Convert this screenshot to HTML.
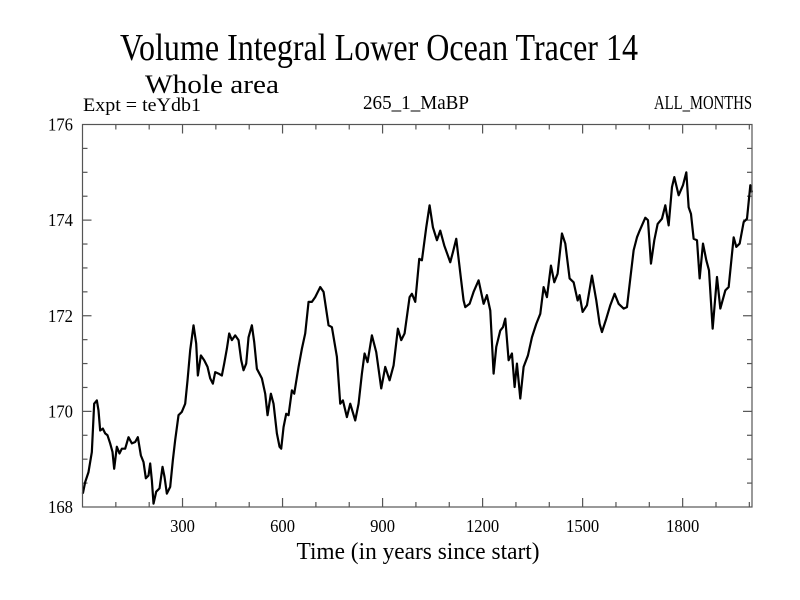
<!DOCTYPE html>
<html><head><meta charset="utf-8"><style>
html,body{margin:0;padding:0;background:#fff;}
svg{display:block;font-family:"Liberation Serif",serif;}
</style></head><body>
<svg id="chart" width="800" height="600">
<rect width="800" height="600" fill="#fff"/>
<text x="379" y="60" font-size="38" text-anchor="middle" textLength="518" lengthAdjust="spacingAndGlyphs">Volume Integral Lower Ocean Tracer 14</text>
<text x="145" y="93" font-size="26" textLength="134" lengthAdjust="spacingAndGlyphs">Whole area</text>
<text x="83" y="111" font-size="19" textLength="118" lengthAdjust="spacingAndGlyphs">Expt = teYdb1</text>
<text x="363" y="109" font-size="20" textLength="106" lengthAdjust="spacingAndGlyphs">265_1_MaBP</text>
<text x="752" y="109" font-size="20" text-anchor="end" textLength="98" lengthAdjust="spacingAndGlyphs">ALL_MONTHS</text>
<text x="418" y="559" font-size="24" text-anchor="middle" textLength="243" lengthAdjust="spacingAndGlyphs">Time (in years since start)</text>
<g id="axes"></g>
<path id="series" fill="none" stroke="#000" stroke-width="2.2" stroke-linejoin="round"/>
<rect x="82.5" y="124.5" width="669.5" height="382.5" fill="none" stroke="#555" stroke-width="1.2"/>
</svg>
<script>
const years = [1,8,18,28,35,43,48,53,61,68,75,83,90,95,103,111,118,128,138,148,158,166,175,183,190,198,203,208,213,221,231,240,246,253,263,271,278,288,298,308,315,323,333,341,346,355,365,375,383,391,398,408,418,425,433,440,448,458,468,476,483,491,498,508,515,523,538,548,555,565,573,583,591,596,603,611,618,628,635,648,658,668,678,688,698,713,723,738,748,763,773,781,793,803,818,828,838,846,855,868,881,896,908,921,933,946,956,966,981,988,998,1010,1018,1031,1041,1051,1063,1073,1085,1103,1111,1121,1135,1143,1148,1161,1173,1188,1203,1213,1223,1233,1241,1253,1261,1268,1278,1288,1296,1303,1313,1323,1336,1348,1361,1373,1383,1393,1405,1415,1425,1438,1448,1461,1473,1485,1491,1500,1513,1528,1541,1551,1558,1571,1583,1596,1608,1623,1633,1643,1653,1663,1671,1688,1696,1705,1715,1725,1738,1748,1758,1768,1775,1788,1801,1811,1818,1825,1833,1843,1851,1861,1871,1879,1890,1903,1913,1928,1938,1953,1961,1971,1983,1993,2003,2008];
const values = [168.28,168.52,168.73,169.15,170.16,170.23,170.02,169.60,169.64,169.54,169.50,169.33,169.15,168.80,169.26,169.12,169.22,169.22,169.46,169.33,169.36,169.46,169.08,168.94,168.60,168.66,168.91,168.56,168.07,168.32,168.39,168.84,168.63,168.28,168.42,168.98,169.40,169.92,169.99,170.16,170.65,171.28,171.80,171.42,170.75,171.17,171.07,170.93,170.69,170.58,170.82,170.79,170.75,171.00,171.31,171.63,171.49,171.59,171.49,171.07,170.86,171.00,171.55,171.80,171.45,170.89,170.69,170.37,169.92,170.37,170.16,169.54,169.26,169.22,169.67,169.95,169.92,170.44,170.37,170.93,171.31,171.63,172.29,172.29,172.39,172.60,172.50,171.80,171.76,171.14,170.16,170.23,169.88,170.16,169.81,170.16,170.79,171.21,171.03,171.59,171.24,170.48,170.93,170.65,170.96,171.73,171.49,171.63,172.39,172.46,172.29,173.19,173.16,173.85,174.31,173.85,173.58,173.78,173.47,173.12,173.33,173.61,172.78,172.32,172.18,172.25,172.50,172.74,172.25,172.43,172.11,170.79,171.35,171.69,171.76,171.94,171.07,171.21,170.51,171.00,170.27,170.93,171.17,171.55,171.83,172.04,172.60,172.39,173.05,172.70,172.88,173.72,173.51,172.78,172.70,172.32,172.43,172.08,172.22,172.84,172.32,171.83,171.66,171.94,172.22,172.46,172.25,172.15,172.18,172.78,173.37,173.64,173.78,174.05,174.00,173.09,173.58,173.92,174.03,174.31,173.89,174.69,174.90,174.52,174.73,175.00,174.27,174.13,173.61,173.58,172.78,173.51,173.16,172.95,171.73,172.81,172.15,172.53,172.60,173.64,173.44,173.51,173.96,174.03,174.73,174.58];
const xTickLabels = [300,600,900,1200,1500,1800];
const yTickLabels = [168,170,172,174,176];
const xMin = 0, xMax = 2008, yMin = 168, yMax = 176;
const L = 82.5, R = 752, T = 124.5, B = 507;
function xs(v){ return L + (v - xMin) / (xMax - xMin) * (R - L); }
function ys(v){ return B - (v - yMin) / (yMax - yMin) * (B - T); }
const NS = "http://www.w3.org/2000/svg";
const axes = document.getElementById('axes');
function line(x1,y1,x2,y2,name){
  const l = document.createElementNS(NS,'line');
  l.setAttribute('x1',x1);l.setAttribute('y1',y1);l.setAttribute('x2',x2);l.setAttribute('y2',y2);
  l.setAttribute('stroke','#555');l.setAttribute('stroke-width','1.2');
  
  
  axes.appendChild(l);
}
function label(x,y,txt,anchor,name,w){
  const t = document.createElementNS(NS,'text');
  t.setAttribute('x',x);t.setAttribute('y',y);t.setAttribute('font-size','18');
  t.setAttribute('text-anchor',anchor);t.textContent = txt;
  t.setAttribute('textLength', w);
  t.setAttribute('lengthAdjust','spacingAndGlyphs');
  
  
  axes.appendChild(t);
}
for(let v=100; v<xMax; v+=100){
  const major = v % 300 === 0;
  const len = major ? 9 : 5;
  const x = xs(v);
  line(x,B,x,B-len,'x-tick');
  line(x,T,x,T+len,'x-tick-top');
}
for(let v=yMin+0.5; v<yMax; v+=0.5){
  const major = Math.abs(v % 2) < 1e-9;
  const len = major ? 9 : 5;
  const y = ys(v);
  line(L,y,L+len,y,'y-tick');
  line(R,y,R-len,y,'y-tick-right');
}
xTickLabels.forEach(v => label(xs(v), 532, String(v), 'middle', 'x-tick-label', String(v).length*8.3));
yTickLabels.forEach(v => label(73, ys(v)+6, String(v), 'end', 'y-tick-label', 25));
let d = '';
years.forEach((yr,i) => { d += (i ? 'L' : 'M') + xs(yr).toFixed(2) + ',' + ys(values[i]).toFixed(2); });
document.getElementById('series').setAttribute('d', d);
</script>
</body></html>
